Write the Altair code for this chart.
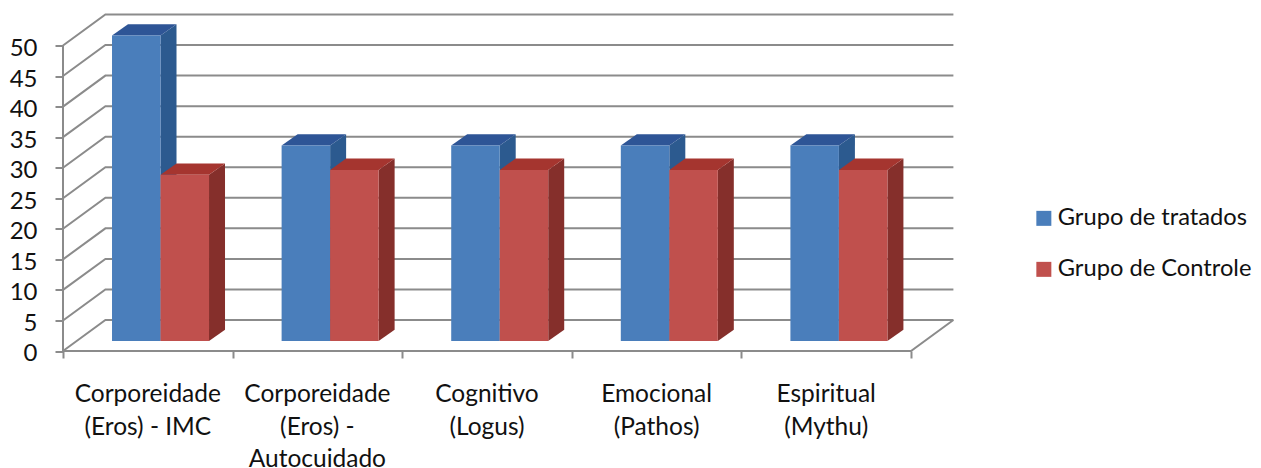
import altair as alt
import pandas as pd

categories = ["Corporeidade\n(Eros) - IMC", "Corporeidade\n(Eros) -\nAutocuidado", "Cognitivo\n(Logus)", "Emocional\n(Pathos)", "Espiritual\n(Mythu)"]
tratados = [50, 32, 32, 32, 32]
controle = [27.2, 28, 28, 28, 28]
series_names = ["Grupo de tratados", "Grupo de Controle"]
y_ticks = list(range(0, 55, 5))
title_fragment = "et de Gerais."

GRAY = "#8b8b8b"
FONT = "Lato"
WALL_X, WALL_Y = 0.25, 5.07      # depth of the chart box, in data units
BAR_X, BAR_Y = 0.0943, 1.85      # depth of a bar
BASE = 1.64                      # bars stand on the floor, slightly behind the front edge
X0, BW = 0.289, 0.286

# box lines
rows = []
def seg(key, *pts):
    for x, y in pts:
        rows.append({"k": key, "x": x, "y": y})
for v in y_ticks:
    seg(f"s{v}", (0, v), (WALL_X, v + WALL_Y), (5 + WALL_X, v + WALL_Y))
seg("front", (0, 0), (5, 0), (5 + WALL_X, WALL_Y))
seg("left", (0, 0), (0, 50))
lines = pd.DataFrame(rows)

xs = alt.Scale(domain=[0, 5.25], nice=False, zero=False)
ys = alt.Scale(domain=[0, 55.07], nice=False, zero=False)
xa = alt.Axis(values=[0, 1, 2, 3, 4, 5], labels=False, domain=False, grid=False,
              tickSize=7, tickColor=GRAY, tickWidth=2, title=None)
ya = alt.Axis(values=y_ticks, domain=False, grid=False, tickSize=8, tickColor=GRAY, tickWidth=2,
              labelFont=FONT, labelFontSize=24, labelColor="#111111", labelPadding=18,
              labelOverlap=False, labelSeparation=0, labelOffset=3, title=None)

base = alt.Chart(lines).mark_line(color=GRAY, strokeWidth=2, clip=False).encode(
    x=alt.X("x:Q", scale=xs, axis=xa),
    y=alt.Y("y:Q", scale=ys, axis=ya),
    detail="k:N",
)

def faces(values, offset):
    front, side, top = [], [], []
    for i, v in enumerate(values):
        l = i + X0 + offset * BW
        r = l + BW
        t = v + BASE
        front.append({"l": l, "r": r, "b": BASE, "t": t})
        side += [{"k": i, "x": r, "lo": BASE, "hi": t},
                 {"k": i, "x": r + BAR_X, "lo": BASE + BAR_Y, "hi": t + BAR_Y}]
        top += [{"k": i, "y": t, "l": l, "r": r},
                {"k": i, "y": t + BAR_Y, "l": l + BAR_X, "r": r + BAR_X}]
    return front, pd.DataFrame(side), pd.DataFrame(top)

def depth_layers(side, top, side_col, top_col):
    s = alt.Chart(side).mark_area(color=side_col, orient="vertical", opacity=1).encode(
        x=alt.X("x:Q", scale=xs, axis=xa), y=alt.Y("lo:Q", scale=ys, axis=ya), y2="hi:Q", detail="k:N")
    t = alt.Chart(top).mark_area(color=top_col, orient="horizontal", opacity=1).encode(
        y=alt.Y("y:Q", scale=ys, axis=ya), x=alt.X("l:Q", scale=xs, axis=xa), x2="r:Q", detail="k:N")
    return [s, t]

f1, s1, t1 = faces(tratados, 0)
f2, s2, t2 = faces(controle, 1)
fronts = pd.DataFrame([dict(d, s=series_names[0]) for d in f1] + [dict(d, s=series_names[1]) for d in f2])

front_layer = alt.Chart(fronts).mark_rect().encode(
    x=alt.X("l:Q", scale=xs, axis=xa), x2="r:Q",
    y=alt.Y("b:Q", scale=ys, axis=ya), y2="t:Q",
    color=alt.Color("s:N", scale=alt.Scale(domain=series_names, range=["#4a7ebb", "#c0504d"]),
                    sort=series_names,
                    legend=alt.Legend(title=None, orient="none", legendX=969, legendY=192,
                                      symbolType="square", symbolSize=225, symbolStrokeWidth=0,
                                      symbolOpacity=1, labelFont=FONT, labelFontSize=23.7,
                                      labelColor="#111111", labelOffset=2, rowPadding=26,
                                      labelLimit=300)),
)

cat_df = pd.DataFrame({"x": [i + 0.5 for i in range(5)], "label": categories})
cat_text = alt.Chart(cat_df).mark_text(
    font=FONT, fontSize=24.5, color="#111111", lineBreak="\n", lineHeight=32.5,
    baseline="top", align="center").encode(
    x=alt.X("x:Q", scale=xs, axis=xa), y=alt.value(369), text="label:N")

# Only the very bottom of this title reaches the picture; it sits above the page margin.
title_text = alt.Chart(pd.DataFrame({"t": [title_fragment]})).mark_text(
    font=FONT, fontSize=36, color="#111111", align="left", baseline="alphabetic").encode(
    x=alt.value(-55), y=alt.value(-11), text="t:N")

chart = alt.layer(
    base,
    *depth_layers(s1, t1, "#2c5a8f", "#2e5596"),
    *depth_layers(s2, t2, "#852f2b", "#a5352f"),
    front_layer, cat_text, title_text,
).properties(
    width=890.4, height=336.5,
    padding={"left": 55, "top": 6.5, "right": 299.5, "bottom": 117},
    autosize=alt.AutoSizeParams(type="none"),
).configure_view(stroke=None).configure_axis(labelOverlap=False)

chart.save("out.html", embed_options={"renderer": "svg", "actions": False})
